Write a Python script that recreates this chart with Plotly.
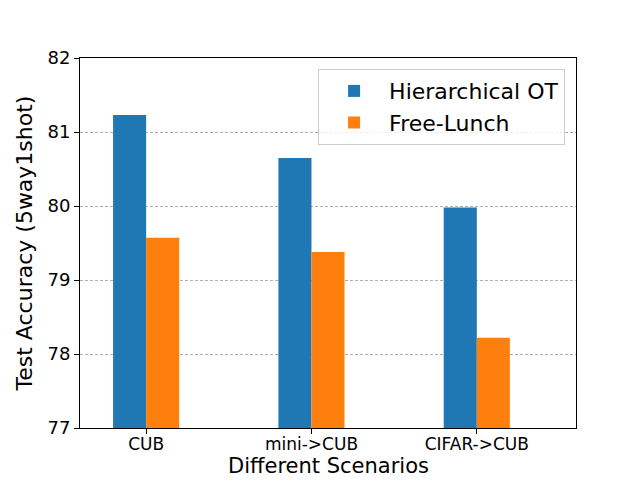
import plotly.graph_objects as go

categories = ["CUB", "mini->CUB", "CIFAR->CUB"]
hot_values = [81.23, 80.65, 79.98]
fl_values = [79.57, 79.38, 78.22]
series_names = ["Hierarchical OT", "Free-Lunch"]
y_ticks = [77, 78, 79, 80, 81, 82]

idx = list(range(len(categories)))
FONT = "DejaVu Sans"

fig = go.Figure()
fig.add_trace(go.Bar(x=idx, y=hot_values, name=series_names[0], width=0.2, offset=-0.2,
                     marker=dict(color="#1f77b4", line=dict(width=0))))
fig.add_trace(go.Bar(x=idx, y=fl_values, name=series_names[1], width=0.2, offset=0,
                     marker=dict(color="#ff7f0e", line=dict(width=0))))

fig.update_layout(
    width=640, height=480,
    margin=dict(l=80, r=64, t=58, b=52),
    plot_bgcolor="white", paper_bgcolor="white",
    barmode="overlay",
    font=dict(family=FONT, color="black"),
    legend=dict(x=0.978, y=0.97, xanchor="right", yanchor="top",
                bordercolor="#cccccc", borderwidth=1, bgcolor="rgba(255,255,255,0.8)",
                font=dict(size=22, family=FONT), itemwidth=60),
    xaxis=dict(range=[-0.4, 2.6], tickvals=idx, ticktext=categories,
               tickfont=dict(size=17), ticks="outside", ticklen=5, tickcolor="black",
               ticklabelstandoff=-4,
               showline=True, linecolor="black", linewidth=1, mirror=True,
               showgrid=False, zeroline=False, automargin=False),
    yaxis=dict(range=[77, 82], tickvals=y_ticks, tickfont=dict(size=18),
               ticks="outside", ticklen=5, tickcolor="black",
               showline=True, linecolor="black", linewidth=1, mirror=True,
               showgrid=True, gridcolor="#b0b0b0", griddash="3px,2px", gridwidth=1,
               zeroline=False, automargin=False,
               title=dict(text="Test Accuracy (5way1shot)", font=dict(size=22), standoff=8)),
    annotations=[dict(text="Different Scenarios", xref="paper", yref="paper",
                      x=0.5, y=-0.1405, xanchor="center", yanchor="bottom",
                      showarrow=False, font=dict(size=21, family=FONT))],
)

fig.write_html("out.html", config={"displayModeBar": False},
               post_script="document.body.style.margin='0';document.body.style.overflow='hidden';")
